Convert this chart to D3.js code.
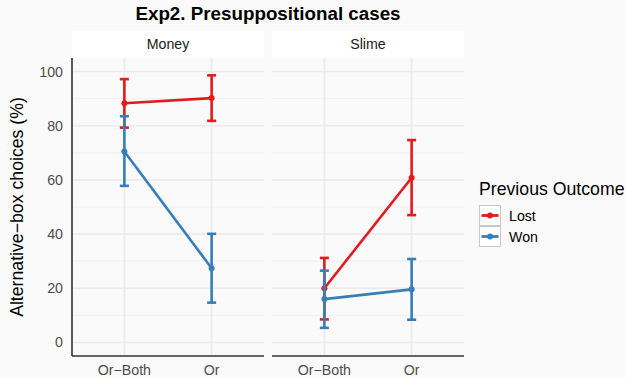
<!DOCTYPE html>
<html>
<head>
<meta charset="utf-8">
<script src="https://cdn.jsdelivr.net/npm/d3@7"></script>
<style>
  body { margin: 0; background: #fafafa; }
  text { font-family: "Liberation Sans", Arial, sans-serif; }
</style>
</head>
<body>
<svg id="chart" width="626" height="378"></svg>
<script>
// data
const panels = ["Money", "Slime"];
const conditions = ["Or\u2212Both", "Or"];
const outcomes = ["Lost", "Won"];
const colours = ["#e41a1c", "#377eb8"];
const yTicks = [0, 20, 40, 60, 80, 100];

// mean, lower, upper per panel / outcome / condition
const moneyLost = [[88.3, 79.3, 97.2], [90.2, 81.8, 98.6]];
const moneyWon  = [[70.5, 57.8, 83.5], [27.4, 14.7, 40.1]];
const slimeLost = [[20.0, 8.5, 31.2], [60.8, 47.0, 74.7]];
const slimeWon  = [[16.0, 5.4, 26.5], [19.6, 8.4, 30.8]];

const series = [
  {panel: "Money", outcome: "Lost", vals: moneyLost},
  {panel: "Money", outcome: "Won", vals: moneyWon},
  {panel: "Slime", outcome: "Lost", vals: slimeLost},
  {panel: "Slime", outcome: "Won", vals: slimeWon}
];

const svg = d3.select("#chart");
const pTop = 58, pBottom = 356, pw = 192, gap = 8, left0 = 72;
const stripH = 27;

const y = d3.scaleLinear().domain([-5, 105]).range([pBottom, pTop]);
const color = d3.scaleOrdinal().domain(outcomes).range(colours);
// ggplot-style discrete x: categories at 1,2 with 0.6 expansion each side
const xs = d3.scaleLinear().domain([0.4, 2.6]).range([0, pw]);
const xpos = c => xs(conditions.indexOf(c) + 1);

// title
svg.append("text").attr("x", left0 + pw + gap / 2).attr("y", 19.5)
  .attr("text-anchor", "middle").attr("font-size", 18.8).attr("font-weight", "bold")
  .attr("fill", "#000").text("Exp2. Presuppositional cases");

panels.forEach((p, i) => {
  const x0 = left0 + i * (pw + gap);
  const g = svg.append("g").attr("transform", `translate(${x0},0)`);

  // strip
  g.append("rect").attr("x", 0).attr("y", pTop - stripH).attr("width", pw).attr("height", stripH).attr("fill", "#fff");
  g.append("text").attr("x", pw / 2).attr("y", pTop - stripH / 2).attr("dy", "0.35em")
    .attr("text-anchor", "middle").attr("font-size", 14.2).attr("fill", "#1a1a1a").text(p);

  // grid
  const minor = d3.range(10, 100, 20);
  g.selectAll(".minor").data(minor).join("line").attr("class", "minor")
    .attr("x1", 0).attr("x2", pw).attr("y1", d => y(d)).attr("y2", d => y(d))
    .attr("stroke", "#efefef").attr("stroke-width", 1);
  g.selectAll(".major").data(yTicks).join("line").attr("class", "major")
    .attr("x1", 0).attr("x2", pw).attr("y1", d => y(d)).attr("y2", d => y(d))
    .attr("stroke", "#ebebeb").attr("stroke-width", 1.6);
  g.selectAll(".vgrid").data(conditions).join("line").attr("class", "vgrid")
    .attr("x1", d => xpos(d)).attr("x2", d => xpos(d)).attr("y1", pTop).attr("y2", pBottom)
    .attr("stroke", "#ebebeb").attr("stroke-width", 1.6);

  // x axis
  g.append("line").attr("x1", 0).attr("x2", pw).attr("y1", pBottom).attr("y2", pBottom)
    .attr("stroke", "#333").attr("stroke-width", 1.6);
  g.selectAll(".xlab").data(conditions).join("text").attr("class", "xlab")
    .attr("x", d => xpos(d)).attr("y", 370).attr("dy", "0.35em")
    .attr("text-anchor", "middle").attr("font-size", 14.2).attr("fill", "#4d4d4d").text(d => d);

  if (i === 0) {
    g.append("line").attr("x1", 0).attr("x2", 0).attr("y1", pTop).attr("y2", pBottom)
      .attr("stroke", "#333").attr("stroke-width", 1.6);
    g.selectAll(".ylab").data(yTicks).join("text").attr("class", "ylab")
      .attr("x", -9).attr("y", d => y(d)).attr("dy", "0.35em")
      .attr("text-anchor", "end").attr("font-size", 14.2).attr("fill", "#4d4d4d").text(d => d);
  }

  // data
  series.filter(s => s.panel === p).forEach(s => {
    const c = color(s.outcome);
    const pts = s.vals.map((v, j) => ({x: xpos(conditions[j]), m: v[0], lo: v[1], hi: v[2]}));
    g.append("path").datum(pts)
      .attr("d", d3.line().x(d => d.x).y(d => y(d.m)))
      .attr("fill", "none").attr("stroke", c).attr("stroke-width", 2.6);
    const eb = g.append("g").attr("stroke", c).attr("stroke-width", 2.6);
    pts.forEach(d => {
      eb.append("line").attr("x1", d.x).attr("x2", d.x).attr("y1", y(d.lo)).attr("y2", y(d.hi));
      eb.append("line").attr("x1", d.x - 4.5).attr("x2", d.x + 4.5).attr("y1", y(d.lo)).attr("y2", y(d.lo));
      eb.append("line").attr("x1", d.x - 4.5).attr("x2", d.x + 4.5).attr("y1", y(d.hi)).attr("y2", y(d.hi));
    });
    pts.forEach(d => {
      g.append("circle").attr("cx", d.x).attr("cy", y(d.m)).attr("r", 3).attr("fill", c);
    });
  });
});

// y axis title
svg.append("text").attr("transform", `translate(17,${(pTop + pBottom) / 2}) rotate(-90)`)
  .attr("dy", "0.35em").attr("text-anchor", "middle").attr("font-size", 17.7).attr("fill", "#000")
  .text("Alternative\u2212box choices (%)");

// legend
const lg = svg.append("g").attr("transform", "translate(479,0)");
lg.append("text").attr("x", 0).attr("y", 195).attr("font-size", 17.7)
  .attr("fill", "#000").text("Previous Outcome");
outcomes.forEach((o, k) => {
  const ky = 205 + k * 21;
  lg.append("rect").attr("x", 0.5).attr("y", ky + 0.5).attr("width", 21).attr("height", 20)
    .attr("fill", "#fff").attr("stroke", "#c8c8c8").attr("stroke-width", 1);
  lg.append("line").attr("x1", 2.5).attr("x2", 19.5).attr("y1", ky + 10.5).attr("y2", ky + 10.5)
    .attr("stroke", color(o)).attr("stroke-width", 2.8);
  lg.append("circle").attr("cx", 11).attr("cy", ky + 10.5).attr("r", 3).attr("fill", color(o));
  lg.append("text").attr("x", 30).attr("y", ky + 11).attr("dy", "0.35em").attr("font-size", 14.2)
    .attr("fill", "#000").text(o);
});
</script>
</body>
</html>
